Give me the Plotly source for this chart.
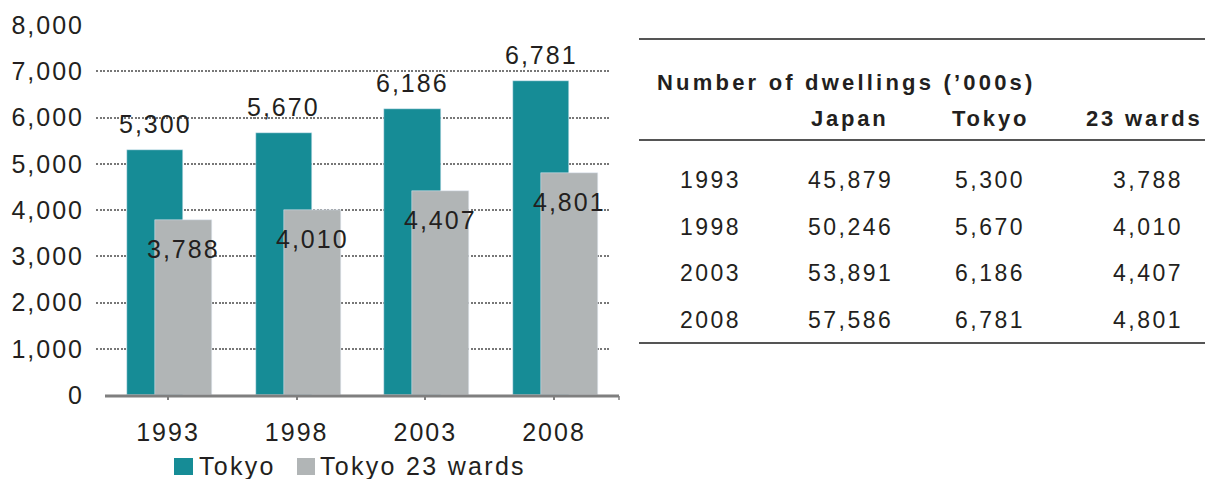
import plotly.graph_objects as go

# ---- data ----
years = ["1993", "1998", "2003", "2008"]
tokyo = [5300, 5670, 6186, 6781]
wards = [3788, 4010, 4407, 4801]
japan = [45879, 50246, 53891, 57586]
series_names = ["Tokyo", "Tokyo 23 wards"]
y_ticks = [0, 1000, 2000, 3000, 4000, 5000, 6000, 7000, 8000]
table_title = "Number of dwellings (\u2019000s)"
table_headers = ["Japan", "Tokyo", "23 wards"]

# ---- style ----
TEAL = "#168c96"
GREY = "#b1b5b6"
TXT = "#231f20"
FONT = "Liberation Sans, Arial, Helvetica, sans-serif"
W, H = 1205, 479
L, R_PX, T, B_PX = 96, 611, 25, 395
PW, PH = R_PX - L, B_PX - T


def ls(s, sp):
    return f'<span style="letter-spacing:{sp}px">{s}</span>'


def fmt(v):
    return f"{v:,}"


def px(x):
    return (x - L) / PW


def py(y):
    return (B_PX - y) / PH


fig = go.Figure()
fig.add_trace(go.Bar(x=years, y=tokyo, name=series_names[0], marker_color=TEAL,
                     offset=-0.319, width=0.437, showlegend=False))
fig.add_trace(go.Bar(x=years, y=wards, name=series_names[1], marker_color=GREY,
                     offset=-0.101, width=0.443, showlegend=False))

ann = []
shapes = []
lab_font = dict(family=FONT, size=25, color=TXT)
for i, v in enumerate(tokyo):
    ann.append(dict(x=i, y=v, xref="x", yref="y", text=ls(fmt(v), 2), showarrow=False,
                    xshift=-13, yshift=26, yanchor="middle", xanchor="center", font=lab_font))
for i, v in enumerate(wards):
    ann.append(dict(x=i, y=v, xref="x", yref="y", text=ls(fmt(v), 2), showarrow=False,
                    xshift=15.5, yshift=-29, yanchor="middle", xanchor="center", font=lab_font))

# bottom axis line and end tick
shapes.append(dict(type="line", xref="paper", yref="paper", x0=px(105), x1=px(619),
                   y0=py(396), y1=py(396), line=dict(color="#7f7f7f", width=3)))
shapes.append(dict(type="line", xref="paper", yref="paper", x0=px(619), x1=px(619),
                   y0=py(396), y1=py(400), line=dict(color="#7f7f7f", width=1.5)))

# legend (manual)
leg = [(174, 193, TEAL, 197, series_names[0]), (297, 315, GREY, 318, series_names[1])]
for x0, x1, col, tx, name in leg:
    shapes.append(dict(type="rect", xref="paper", yref="paper", x0=px(x0), x1=px(x1),
                       y0=py(475), y1=py(458), fillcolor=col, line=dict(width=0)))
    ann.append(dict(xref="paper", yref="paper", x=px(tx), y=py(466), text=ls(name, 2.3),
                    showarrow=False, xanchor="left", yanchor="middle", font=lab_font))

# table
for yl in [39, 140, 343]:
    shapes.append(dict(type="line", xref="paper", yref="paper", x0=px(639), x1=px(1210),
                       y0=py(yl), y1=py(yl), line=dict(color="#555555", width=2)))
bold_font = dict(family=FONT, size=22, color=TXT)
ann.append(dict(xref="paper", yref="paper", x=px(655), y=py(82), text="<b>" + ls(table_title, 3.2) + "</b>",
                showarrow=False, xanchor="left", yanchor="middle", font=bold_font))
col_x = [710, 850, 990, 1148]
head_x = [850, 990, 1144]
for cx, h in zip(head_x, table_headers):
    ann.append(dict(xref="paper", yref="paper", x=px(cx), y=py(118), text="<b>" + ls(h, 2.8) + "</b>",
                    showarrow=False, xanchor="center", yanchor="middle", font=bold_font))
row_y = [180, 227, 273, 320]
tab_font = dict(family=FONT, size=23, color=TXT)
for i, yr in enumerate(years):
    vals = [yr, fmt(japan[i]), fmt(tokyo[i]), fmt(wards[i])]
    for cx, s in zip(col_x, vals):
        ann.append(dict(xref="paper", yref="paper", x=px(cx), y=py(row_y[i]), text=ls(s, 2.5),
                        showarrow=False, xanchor="center", yanchor="middle", font=tab_font))

fig.update_layout(
    width=W, height=H,
    margin=dict(l=L, r=W - R_PX, t=T, b=H - B_PX),
    paper_bgcolor="white", plot_bgcolor="white",
    barmode="overlay", bargap=0,
    font=dict(family=FONT, size=25, color=TXT),
    annotations=ann, shapes=shapes,
    showlegend=False,
)
fig.update_xaxes(type="category", range=[-0.5596, 3.443], showgrid=False, showline=False,
                 zeroline=False, ticks="outside", ticklen=4, tickwidth=1.5, tickcolor="#7f7f7f",
                 tickvals=years, ticktext=[ls(y, 2) for y in years], ticklabelstandoff=11,
                 tickfont=dict(family=FONT, size=25, color=TXT))
fig.update_yaxes(range=[0, 8000], showgrid=True, gridcolor="#777777", gridwidth=2,
                 griddash="2px,1.5px", zeroline=False, showline=False, ticks="",
                 tickvals=y_ticks, ticktext=[ls(fmt(v), 2) for v in y_ticks],
                 ticklabelstandoff=11, tickfont=dict(family=FONT, size=25, color=TXT))

fig.write_html("out.html")
